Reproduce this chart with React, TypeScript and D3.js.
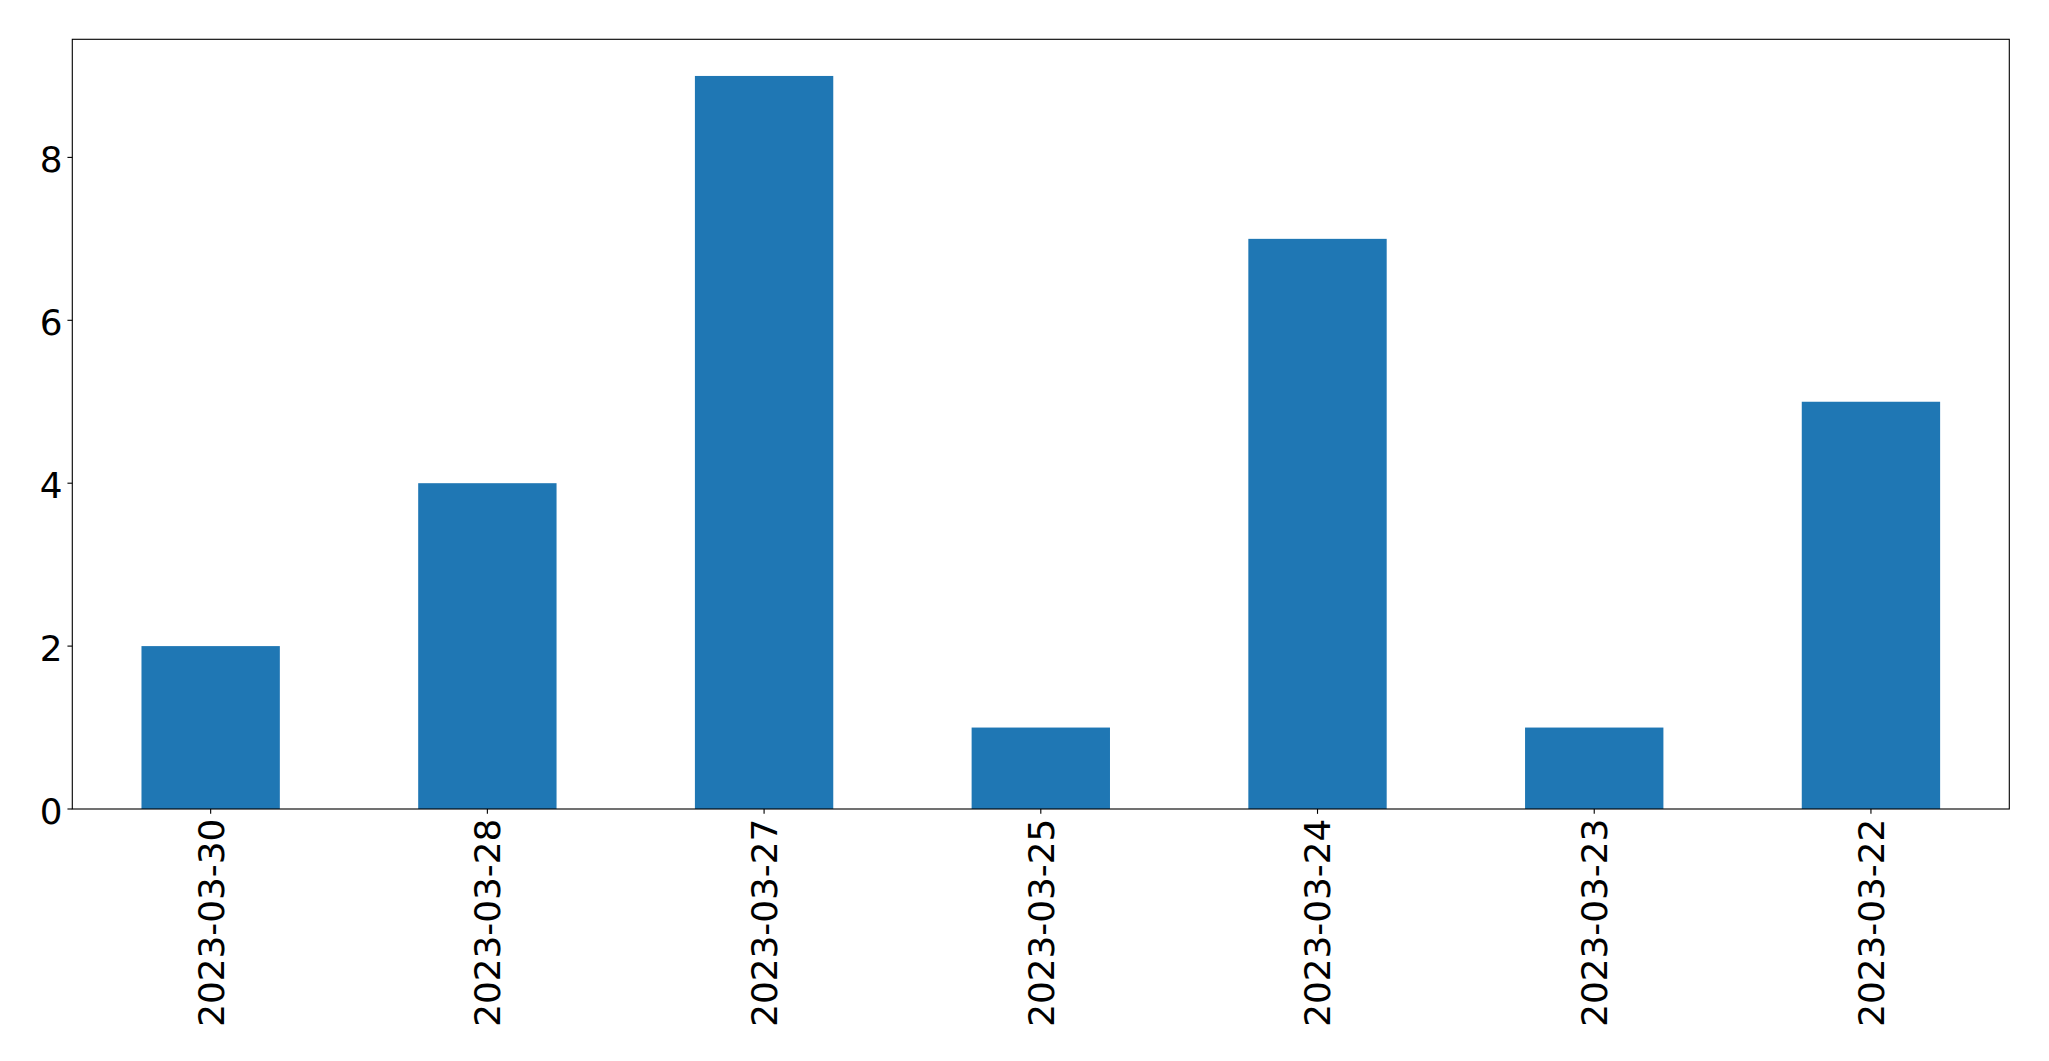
import React from "react";
import * as d3 from "d3";

const categories: string[] = [
  "2023-03-30",
  "2023-03-28",
  "2023-03-27",
  "2023-03-25",
  "2023-03-24",
  "2023-03-23",
  "2023-03-22",
];
const values: number[] = [2, 4, 9, 1, 7, 1, 5];
const yTickValues: number[] = [0, 2, 4, 6, 8];

const W = 2049;
const H = 1061;
const left = 72.3;
const right = 2009.3;
const top = 39.3;
const bottom = 809;
const FONT = "'DejaVu Sans', sans-serif";
const FS = 35.8;
const TICK = 4.86;
const LW = 1.11;

export default function App() {
  const yMax = (d3.max(values) as number) * 1.05;
  const x = d3
    .scaleBand<string>()
    .domain(categories)
    .range([left, right])
    .paddingInner(0.5)
    .paddingOuter(0.25);
  const y = d3.scaleLinear().domain([0, yMax]).range([bottom, top]);

  return (
    <div style={{ position: "fixed", left: 0, top: 0 }}>
      <svg width={W} height={H} style={{ display: "block", background: "#fff" }}>
        <rect x={0} y={0} width={W} height={H} fill="#fff" />
        {categories.map((c, i) => (
          <rect
            key={c}
            x={x(c)}
            y={y(values[i])}
            width={x.bandwidth()}
            height={y(0) - y(values[i])}
            fill="#1f77b4"
          />
        ))}
        <rect
          x={left}
          y={top}
          width={right - left}
          height={bottom - top}
          fill="none"
          stroke="#000"
          strokeWidth={LW}
        />
        {yTickValues.map((t) => (
          <g key={t}>
            <line x1={left - TICK} x2={left} y1={y(t)} y2={y(t)} stroke="#000" strokeWidth={LW} />
            <text
              x={left - TICK - 4.86}
              y={y(t)}
              dy="0.42em"
              textAnchor="end"
              fontFamily={FONT}
              fontSize={FS}
              fill="#000"
            >
              {t}
            </text>
          </g>
        ))}
        {categories.map((c) => {
          const cx = (x(c) as number) + x.bandwidth() / 2;
          return (
            <g key={c}>
              <line x1={cx} x2={cx} y1={bottom} y2={bottom + TICK} stroke="#000" strokeWidth={LW} />
              <text
                transform={`translate(${cx},${bottom + TICK + 4.86}) rotate(-90)`}
                dy="0.36em"
                textAnchor="end"
                fontFamily={FONT}
                fontSize={FS}
                fill="#000"
              >
                {c}
              </text>
            </g>
          );
        })}
      </svg>
    </div>
  );
}
